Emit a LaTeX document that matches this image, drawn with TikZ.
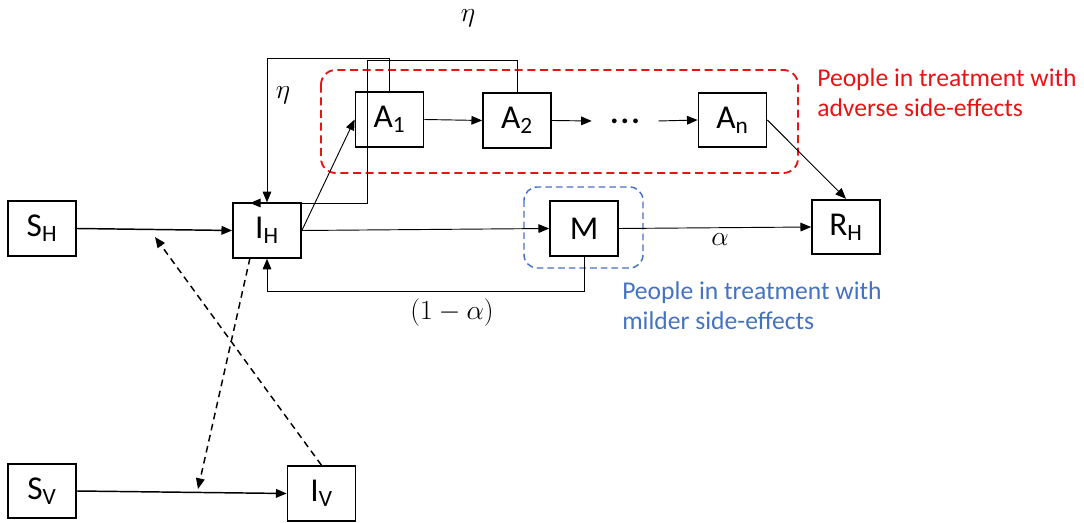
\documentclass[tikz,border=0pt]{standalone}
\usepackage{fontspec}
\setmainfont{Carlito}
\usetikzlibrary{arrows.meta,calc}
\definecolor{myred}{RGB}{232,20,20}
\definecolor{myblue}{RGB}{68,114,196}
\begin{document}
\begin{tikzpicture}[x=0.75pt,y=-0.75pt,
  box/.style={draw,line width=1.3pt,minimum width=51pt,minimum height=41pt,inner sep=0pt,font=\fontsize{25}{29}\selectfont},
  flow/.style={line width=0.7pt,-{Triangle[length=8pt,width=6.5pt]}},
  thickflow/.style={flow,line width=1.1pt},
  dflow/.style={flow,line width=1.1pt,dash pattern=on 5pt off 3.5pt},
  lbl/.style={inner sep=0pt,font=\fontsize{21}{25}\selectfont},
  note/.style={align=left,inner sep=0pt,font=\fontsize{19.2}{22.5}\selectfont}]
\useasboundingbox (0,0) rectangle (1084,523);

% group boxes
\draw[myred,line width=1.4pt,dash pattern=on 6pt off 3.5pt,rounded corners=11pt] (321,70) rectangle (798,173);
\draw[myblue,line width=1.1pt,dash pattern=on 5pt off 3pt,rounded corners=10pt] (524,187) rectangle (643,268);

% compartments
\node[box] (SH) at (42,228.5) {S\textsubscript{H}};
\node[box] (IH) at (267,230.5) {I\textsubscript{H}};
\node[box] (SV) at (42,491) {S\textsubscript{V}};
\node[box] (IV) at (321.5,493.5) {I\textsubscript{V}};
\node[box] (A1) at (389.5,119.5) {A\textsubscript{1}};
\node[box] (A2) at (517,120.5) {A\textsubscript{2}};
\node[box] (An) at (732.5,120) {A\textsubscript{n}};
\node[box] (M)  at (584,228.5) {M};
\node[box] (RH) at (846,227) {R\textsubscript{H}};
\node[inner sep=0pt,minimum width=49.5pt,font=\fontsize{24}{28}\selectfont\bfseries] (dots) at (625,121) {.\hspace{1.5pt}.\hspace{1.5pt}.};

% helper coordinates
\coordinate (c2) at (367,60);
\coordinate (IHin) at (250,203);
\coordinate (t1) at (155,237);
\coordinate (t2) at (198,489);
\coordinate (IHout) at (250,258);

% flows
\draw[thickflow] (SH.east) -- (IH.west);
\draw[thickflow] (SV.east) -- (IV.west);
\draw[flow] (IH.east) -- (A1.west);
\draw[flow] (IH.east) -- (M.west);
\draw[flow] (A1.east) -- (A2.west);
\draw[flow] (A2.east) -- (dots.west);
\draw[flow] (dots.east) -- (An.west);
\draw[flow] (An.east) -- (RH.north);
\draw[flow] (M.east) -- (RH.west);
\draw[flow] (A1.north) -- ++(0,-33) -| (IH.north);
\draw[flow] (A2.north) |- (c2) |- (IHin);
\draw[flow] (M.south) -- ++(0,35) -| (IH.south);
\draw[dflow] (IV.north) -- (t1);
\draw[dflow] (IHout) -- (t2);

% rate labels
\node[lbl] (eta1) at (468,18) {$\eta$};
\node[lbl] (eta2) at (283,95) {$\eta$};
\node[lbl] (oneminus) at (452,313) {$(1-\alpha)$};
\node[lbl] (alpha) at (720,240) {$\alpha$};

% notes
\node[note,text=myred,anchor=west] (rednote) at (817,93) {People in treatment with\\adverse side-effects};
\node[note,text=myblue,anchor=west] (bluenote) at (622,306) {People in treatment with\\milder side-effects};
\end{tikzpicture}
\end{document}
